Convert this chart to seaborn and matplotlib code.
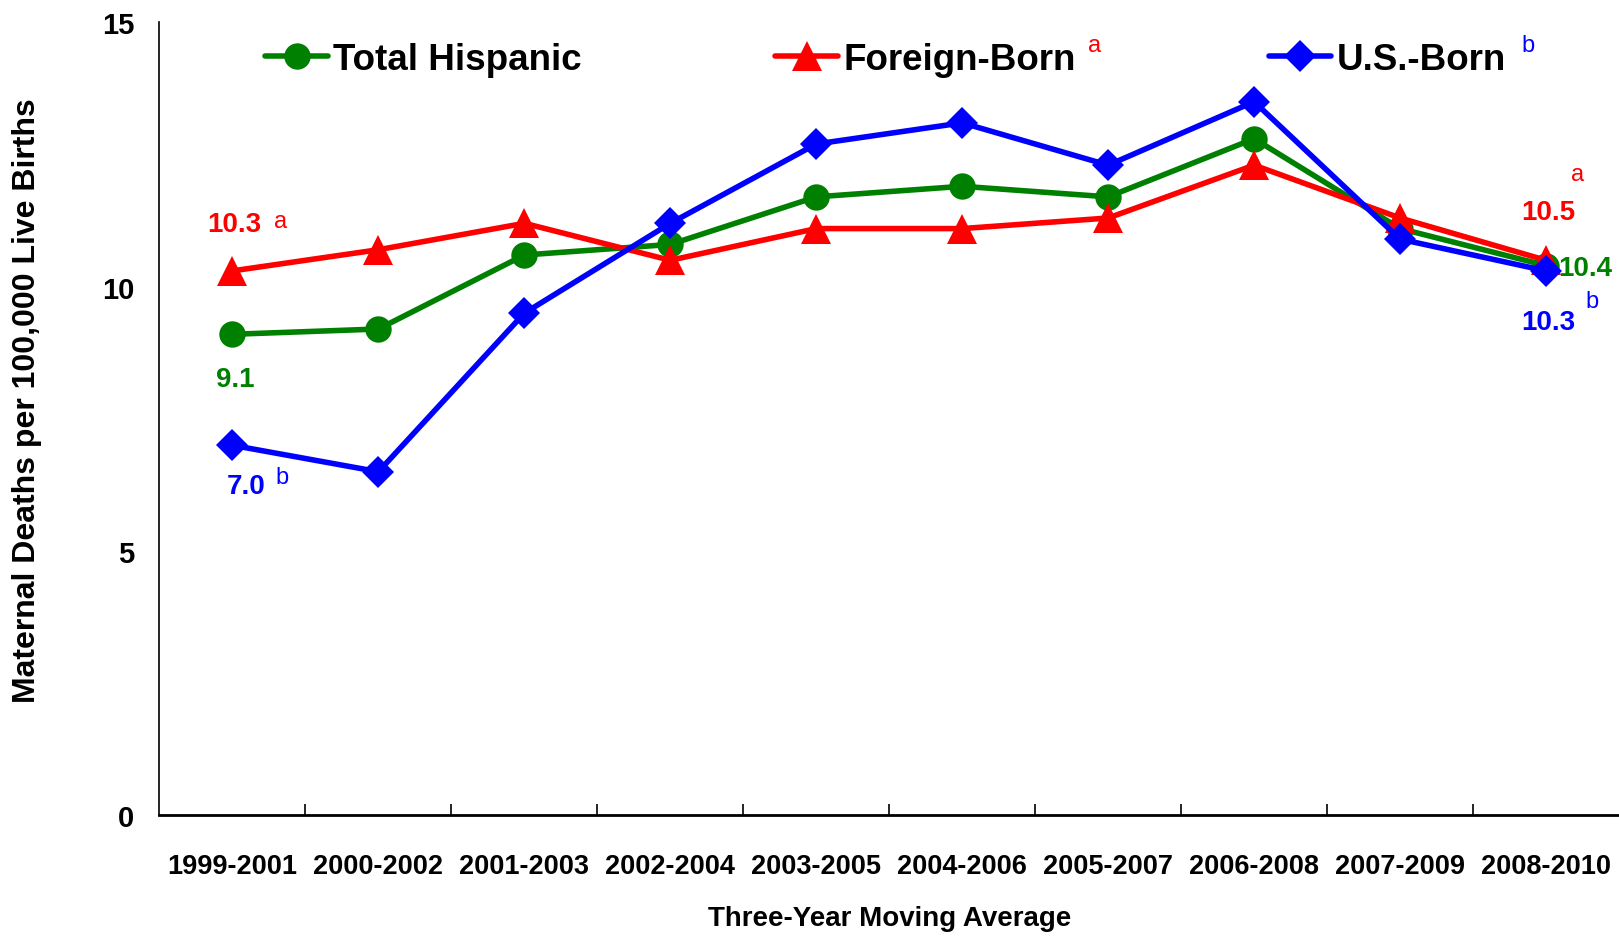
import pandas as pd
import matplotlib.pyplot as plt
import seaborn as sns
from matplotlib.lines import Line2D
from matplotlib.ticker import FixedLocator

periods = ['1999-2001', '2000-2002', '2001-2003', '2002-2004', '2003-2005',
           '2004-2006', '2005-2007', '2006-2008', '2007-2009', '2008-2010']
total_hispanic = [9.1, 9.2, 10.6, 10.8, 11.7, 11.9, 11.7, 12.8, 11.1, 10.4]
foreign_born = [10.3, 10.7, 11.2, 10.5, 11.1, 11.1, 11.3, 12.3, 11.3, 10.5]
us_born = [7.0, 6.5, 9.5, 11.2, 12.7, 13.1, 12.3, 13.5, 10.9, 10.3]

groups = ['Total Hispanic', 'Foreign-Born', 'U.S.-Born']
colors = {'Total Hispanic': '#008000', 'Foreign-Born': '#ff0000', 'U.S.-Born': '#0000ff'}
markers = {'Total Hispanic': 'o', 'Foreign-Born': '^', 'U.S.-Born': 'D'}
msizes = {'Total Hispanic': 19, 'Foreign-Born': 21, 'U.S.-Born': 16}

df = pd.DataFrame({
    'period': periods * 3,
    'rate': total_hispanic + foreign_born + us_born,
    'group': [g for g in groups for _ in periods],
})

sns.set_style('white')
plt.rcParams['font.family'] = ['Liberation Sans', 'DejaVu Sans']
plt.rcParams['font.weight'] = 'bold'
plt.rcParams['text.color'] = 'black'
plt.rcParams['axes.labelcolor'] = 'black'
plt.rcParams['xtick.color'] = 'black'
plt.rcParams['ytick.color'] = 'black'

fig = plt.figure(figsize=(16.19, 9.37), dpi=100)
ax = fig.add_axes([0.0985, 0.1288, 0.9015, 0.8462])

# green first, red over it, blue on top
for g in groups:
    sub = df[df['group'] == g]
    sns.lineplot(data=sub, x='period', y='rate', color=colors[g], marker=markers[g],
                 markersize=msizes[g], markeredgewidth=0, linewidth=4, sort=False, ax=ax)

ax.set_xlim(-0.5, 9.5)
ax.set_ylim(0, 15)
ax.set_yticks([0, 5, 10, 15])
ax.tick_params(axis='y', direction='in', length=8, width=1.2, pad=18, labelsize=21)
ax.tick_params(axis='x', which='major', length=0, pad=27, labelsize=19.5)
ax.xaxis.set_minor_locator(FixedLocator([i + 0.5 for i in range(9)]))
ax.tick_params(axis='x', which='minor', direction='in', length=8, width=1.2, bottom=True)
for lab in ax.get_xticklabels() + ax.get_yticklabels():
    lab.set_fontweight('bold')

for side in ['top', 'right']:
    ax.spines[side].set_visible(False)
ax.spines['left'].set_linewidth(1.2)
ax.spines['bottom'].set_linewidth(2)
ax.spines['left'].set_color('black')
ax.spines['bottom'].set_color('black')

ax.set_xlabel('Three-Year Moving Average', fontsize=20, fontweight='bold')
ax.set_ylabel('Maternal Deaths per 100,000 Live Births', fontsize=23, fontweight='bold')
ax.xaxis.label.set_va('center')
ax.yaxis.label.set_va('center')
ax.xaxis.set_label_coords(0.5, -0.1295)
ax.yaxis.set_label_coords(-0.091, 0.524)

# legend
handles = [Line2D([], [], color=colors[g], marker=markers[g], markersize=msizes[g],
                  markeredgewidth=0, linewidth=4) for g in groups]
ax.legend(handles, groups, loc='center left', bbox_to_anchor=(0.0725, 0.953), ncol=3,
          frameon=False, handlelength=1.7, handletextpad=0.15,
          columnspacing=5.25, borderpad=0, borderaxespad=0,
          prop={'size': 26.5, 'weight': 'bold'})
ax.text(0.641, 0.971, 'a', transform=ax.transAxes, color='red', fontsize=17,
        fontweight='normal', ha='center', va='center')
ax.text(0.9377, 0.971, 'b', transform=ax.transAxes, color='blue', fontsize=17,
        fontweight='normal', ha='center', va='center')

# value labels
def lab(i, val, txt, dx, dy, col, bold=True, size=20):
    ax.annotate(txt, xy=(i, val), xytext=(dx, dy), textcoords='offset points',
                ha='center', va='center', color=col, fontsize=size,
                fontweight='bold' if bold else 'normal', annotation_clip=False)

lab(0, foreign_born[0], f'{foreign_born[0]:.1f}', 1.5, 34, 'red')
lab(0, foreign_born[0], 'a', 35, 36, 'red', False, 17)
lab(0, total_hispanic[0], f'{total_hispanic[0]:.1f}', 2, -32, 'green')
lab(0, us_born[0], f'{us_born[0]:.1f}', 10, -29, 'blue')
lab(0, us_born[0], 'b', 36, -23, 'blue', False, 17)
lab(9, foreign_born[9], 'a', 23, 62, 'red', False, 17)
lab(9, foreign_born[9], f'{foreign_born[9]:.1f}', 1.5, 34.5, 'red')
lab(9, total_hispanic[9], f'{total_hispanic[9]:.1f}', 28, -2, 'green')
lab(9, us_born[9], f'{us_born[9]:.1f}', 1.5, -37, 'blue')
lab(9, us_born[9], 'b', 33, -21.5, 'blue', False, 17)

plt.savefig('out.png', dpi=100)
